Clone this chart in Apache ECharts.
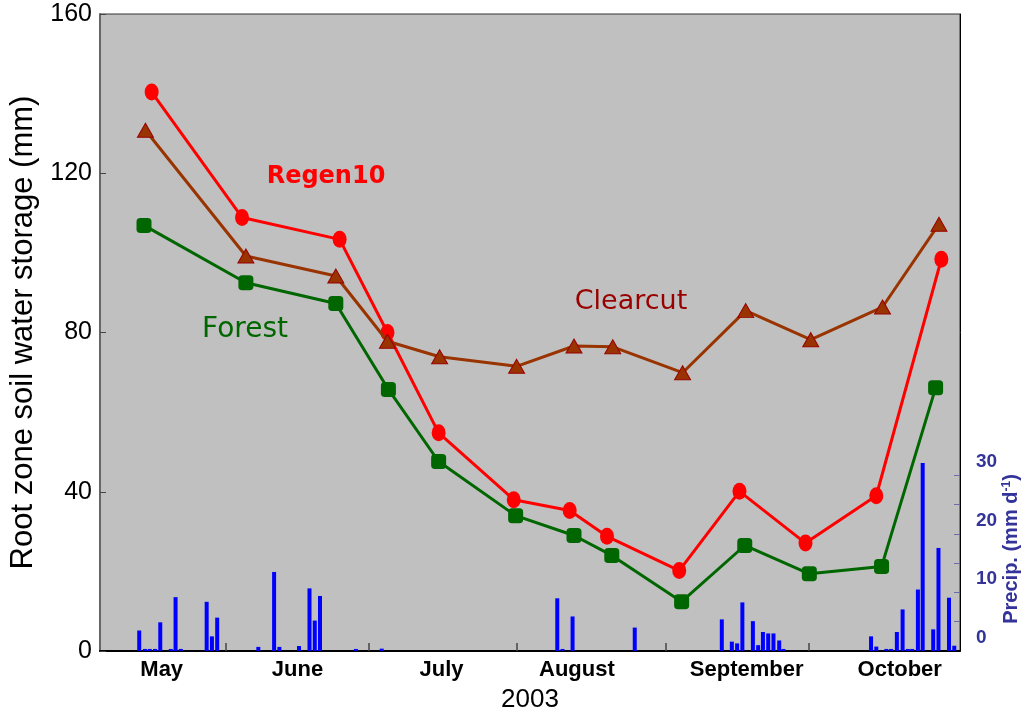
<!DOCTYPE html>
<html>
<head>
<meta charset="utf-8">
<script src="https://cdn.jsdelivr.net/npm/echarts@6/dist/echarts.min.js"></script>
<style>
  html, body { margin: 0; padding: 0; background: #fff; }
  #chart { width: 1024px; height: 710px; }
</style>
</head>
<body>
<div id="chart"></div>
<script>
// days are day-of-year 2003 (Jan 1 = 0)
const regenDay = [135.6, 154.5, 174.9, 184.9, 195.6, 211.3, 223.0, 230.8, 245.9, 258.5, 272.3, 287.1, 300.7];
const regenVal = [140.4, 108.9, 103.4, 80.0, 54.8, 38.0, 35.3, 28.8, 20.2, 40.1, 27.1, 39.0, 98.4];
const clearDay = [134.3, 155.3, 174.1, 184.9, 195.8, 211.9, 223.9, 232.0, 246.6, 259.8, 273.4, 288.4, 300.2];
const clearVal = [130.8, 99.2, 94.2, 77.8, 73.9, 71.5, 76.6, 76.4, 69.9, 85.5, 78.2, 86.4, 107.2];
const forestDay = [134.0, 155.3, 174.1, 185.1, 195.6, 211.7, 223.9, 231.8, 246.4, 259.6, 273.1, 288.2, 299.5];
const forestVal = [106.9, 92.5, 87.3, 65.7, 47.6, 34.0, 29.0, 24.0, 12.4, 26.5, 19.4, 21.2, 66.1];

// daily precipitation (mm/d)
const precipDay = [133.0, 134.2, 135.2, 136.3, 137.4, 139.6, 140.6, 141.7, 147.1, 148.2, 149.3, 157.9,
  161.2, 162.3, 166.4, 168.6, 169.7, 170.8, 178.3, 183.7, 220.4, 221.5, 223.6, 236.6,
  254.8, 256.9, 258.0, 259.1, 261.3, 262.4, 263.4, 264.5, 265.6, 266.8, 267.7,
  286.0, 287.1, 289.2, 290.2, 291.4, 292.6, 293.7, 294.6, 295.8, 296.8, 299.0, 300.1, 302.3, 303.4];
const precipMm = [3.5, 0.35, 0.35, 0.35, 4.9, 0.35, 9.2, 0.35, 8.4, 2.5, 5.7, 0.7,
  13.5, 0.7, 0.85, 10.7, 5.2, 9.4, 0.35, 0.4, 9.0, 0.35, 5.9, 4.0,
  5.4, 1.6, 1.3, 8.3, 5.1, 1.0, 3.25, 3.0, 3.0, 1.8, 0.35,
  2.5, 0.75, 0.35, 0.35, 3.25, 7.1, 0.35, 0.35, 10.5, 32.1, 3.7, 17.6, 9.1, 0.9];

// axis ticks / labels
const monthStartDays = [151, 181, 212, 243, 273];
const monthLabelDays = [137.7, 166.1, 196.2, 224.5, 260, 292];
const monthNames = ['May', 'June', 'July', 'August', 'September', 'October'];
const storageTicks = [0, 40, 80, 120, 160];
const precipTicks = [5, 10, 15, 20, 25, 30];
const precipLabels = [0, 10, 20, 30];

const pairs = (xs, ys) => xs.map((x, i) => [x, ys[i]]);
const font = 'Liberation Sans, Arial, sans-serif';
const comic = 'Comic Sans MS, DejaVu Sans, sans-serif';

const chart = echarts.init(document.getElementById('chart'));

const option = {
  animation: false,
  grid: {
    left: 100, right: 64, top: 14, bottom: 59,
    outerBoundsMode: 'none',
    containLabel: false,
    show: true,
    backgroundColor: '#C0C0C0',
    borderColor: '#333',
    borderWidth: 1
  },
  xAxis: {
    type: 'value',
    min: 124.8,
    max: 304.6,
    name: '2003',
    nameLocation: 'middle',
    nameGap: 36,
    nameTextStyle: { fontFamily: font, fontSize: 26, color: '#000' },
    splitLine: { show: false },
    axisLine: { lineStyle: { color: '#000', width: 2 } },
    axisTick: { inside: true, length: 8, customValues: monthStartDays, lineStyle: { color: '#444', width: 1.5 } },
    axisLabel: {
      customValues: monthLabelDays,
      margin: 8,
      fontFamily: font, fontSize: 22, fontWeight: 'bold', color: '#000',
      formatter: function (v) {
        let best = 0;
        monthLabelDays.forEach((d, i) => { if (Math.abs(d - v) < Math.abs(monthLabelDays[best] - v)) best = i; });
        return monthNames[best];
      }
    }
  },
  yAxis: [
    {
      type: 'value',
      min: 0,
      max: 160,
      interval: 40,
      name: 'Root zone soil water storage (mm)',
      nameLocation: 'middle',
      nameGap: 52,
      nameTextStyle: { fontFamily: font, fontSize: 31, color: '#000' },
      splitLine: { show: false },
      axisLine: { show: true, lineStyle: { color: '#666', width: 2 } },
      axisTick: { inside: true, length: 6, customValues: storageTicks, lineStyle: { color: '#444' } },
      axisLabel: { fontFamily: font, fontSize: 25, color: '#000', margin: 8 }
    },
    {
      type: 'value',
      position: 'right',
      min: 0,
      max: 108.8,
      splitLine: { show: false },
      axisLine: { show: true, lineStyle: { color: '#000', width: 1 } },
      axisTick: { inside: true, length: 6, customValues: precipTicks, lineStyle: { color: '#6a6aaa' } },
      axisLabel: {
        customValues: precipLabels,
        fontFamily: font, fontSize: 19, fontWeight: 'bold', color: '#333399',
        margin: 16,
        verticalAlign: 'bottom',
        padding: [0, 0, 4, 0]
      }
    }
  ],
  series: [
    {
      name: 'Precip',
      type: 'bar',
      yAxisIndex: 1,
      barWidth: 4,
      itemStyle: { color: '#0000FF' },
      data: pairs(precipDay, precipMm),
      z: 1
    },
    {
      name: 'Forest',
      type: 'line',
      data: pairs(forestDay, forestVal),
      symbol: 'roundRect',
      symbolSize: 15,
      lineStyle: { color: '#006600', width: 3 },
      itemStyle: { color: '#006600' },
      z: 3
    },
    {
      name: 'Regen10',
      type: 'line',
      data: pairs(regenDay, regenVal),
      symbol: 'circle',
      symbolSize: [14, 17],
      lineStyle: { color: '#FF0000', width: 3 },
      itemStyle: { color: '#FF0000' },
      z: 4
    },
    {
      name: 'Clearcut',
      type: 'line',
      data: pairs(clearDay, clearVal),
      symbol: 'triangle',
      symbolSize: [16, 14],
      lineStyle: { color: '#993300', width: 3 },
      itemStyle: { color: '#993300', borderColor: '#990000', borderWidth: 1 },
      z: 5
    }
  ],
  graphic: [
    { type: 'text', x: 326, y: 177, style: { text: 'Regen10', fontFamily: comic, fontSize: 24, fontWeight: 'bold', fill: '#FF0000', align: 'center', verticalAlign: 'middle' } },
    { type: 'text', x: 631, y: 302, style: { text: 'Clearcut', fontFamily: comic, fontSize: 27, fill: '#990000', align: 'center', verticalAlign: 'middle' } },
    { type: 'text', x: 245, y: 330, style: { text: 'Forest', fontFamily: comic, fontSize: 28, fill: '#006600', align: 'center', verticalAlign: 'middle' } },
    {
      type: 'text', x: 1011, y: 549, rotation: Math.PI / 2,
      style: {
        text: 'Precip. (mm d{sup|-1})',
        fontFamily: font, fontSize: 20, fontWeight: 'bold', fill: '#333399',
        align: 'center', verticalAlign: 'middle',
        rich: { sup: { fontFamily: font, fontSize: 12, fontWeight: 'bold', fill: '#333399', verticalAlign: 'top' } }
      }
    }
  ]
};

chart.setOption(option);
</script>
</body>
</html>
